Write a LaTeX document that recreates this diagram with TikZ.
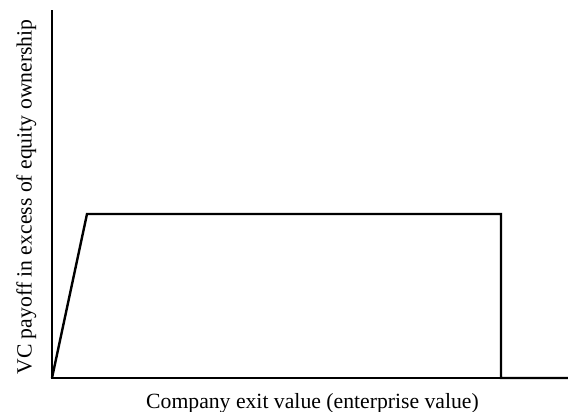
\documentclass[tikz,border=0pt]{standalone}
\usepackage{fontspec}
\setmainfont{Liberation Serif}
\begin{document}
\begin{tikzpicture}[x=1pt,y=1pt,
  axisline/.style={line width=1.1pt,line cap=rect},
  payoff/.style={line width=2.4pt,line join=miter},
  axislabel/.style={font=\fontsize{21.7}{24}\selectfont,inner sep=0pt,anchor=base}]
\useasboundingbox (0,0) rectangle (568,412);
% axes
\coordinate (O) at (52,34);
\coordinate (ytop) at (52,401);
\coordinate (xend) at (501,34);
\draw[axisline] (ytop) -- (O) -- (xend);
% payoff profile
\coordinate (p1) at (87,198);
\coordinate (p2) at (501,198);
\coordinate (p3) at (501,34);
\coordinate (p4) at (568,34);
\draw[payoff] (O) -- (p1) -- (p2) -- (p3) -- (p4);
% labels
\node[axislabel,rotate=90] (ylab) at (31.5,215) {VC payoff in excess of equity ownership};
\node[axislabel] (xlab) at (312.5,3.5) {Company exit value (enterprise value)};
\end{tikzpicture}
\end{document}
